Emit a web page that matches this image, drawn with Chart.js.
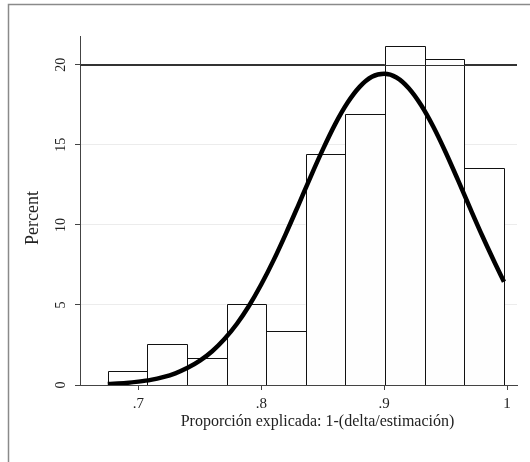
<!DOCTYPE html>
<html><head><meta charset="utf-8">
<script src="https://cdn.jsdelivr.net/npm/chart.js@4/dist/chart.umd.min.js"></script>
<style>html,body{margin:0;padding:0;background:#fff}#wrap{width:530px;height:462px;position:relative}</style>
</head><body><div id="wrap"><canvas id="c" width="530" height="462"></canvas></div>
<script>
// histogram bins (bin centre on x) and percent per bin
const binCenters = [0.6910, 0.7233, 0.7556, 0.7878, 0.8201, 0.8523, 0.8846, 0.9169, 0.9491, 0.9814];
const binPercent = [0.85, 2.54, 1.69, 5.08, 3.39, 14.41, 16.95, 21.19, 20.34, 13.56];
// overlaid density curve
const curveX = [0.675,0.69,0.70,0.71,0.72,0.73,0.74,0.75,0.76,0.77,0.78,0.79,0.80,0.81,0.82,0.83,0.84,0.85,0.86,0.87,0.88,0.89,0.90,0.91,0.92,0.93,0.94,0.95,0.96,0.97,0.98,0.99,0.9975];
const curveY = [0.06,0.13,0.21,0.32,0.49,0.73,1.07,1.52,2.11,2.87,3.81,4.95,6.29,7.80,9.46,11.21,12.99,14.70,16.28,17.61,18.62,19.25,19.44,19.21,18.54,17.49,16.13,14.54,12.81,11.03,9.29,7.64,6.45];
const xTickValues = [0.7, 0.8, 0.9, 1];
const xTickLabels = ['.7', '.8', '.9', '1'];
const yTickValues = [0, 5, 10, 15, 20];
const yTickLabels = ['0', '5', '10', '15', '20'];
const refLineValue = 20;
const xTitle = 'Proporción explicada: 1-(delta/estimación)';
const yTitle = 'Percent';

const SERIF = '"Liberation Serif", "DejaVu Serif", serif';
const BAR_INDEX = 1;

const decor = {
  id: 'decor',
  beforeDraw(chart) {
    const ctx = chart.ctx;
    ctx.save();
    ctx.fillStyle = '#fff';
    ctx.fillRect(0, 0, chart.width, chart.height);
    ctx.restore();
  },
  afterDatasetDraw(chart, args) {
    if (args.index !== BAR_INDEX) return;
    const ctx = chart.ctx;
    const meta = chart.getDatasetMeta(BAR_INDEX);
    ctx.save();
    ctx.strokeStyle = '#111';
    ctx.lineWidth = 1;
    meta.data.forEach(el => {
      const p = el.getProps(['x', 'y', 'base', 'width'], true);
      const l = Math.round(p.x - p.width / 2) + 0.5;
      const r = Math.round(p.x + p.width / 2) + 0.5;
      const t = Math.round(p.y) + 0.5;
      const b = Math.round(p.base);
      ctx.beginPath();
      ctx.moveTo(l, b); ctx.lineTo(l, t); ctx.lineTo(r, t); ctx.lineTo(r, b);
      ctx.stroke();
    });
    ctx.restore();
  },
  afterDatasetsDraw(chart) {
    const ctx = chart.ctx, y = chart.scales.y, a = chart.chartArea;
    ctx.save();
    ctx.strokeStyle = '#333';
    ctx.lineWidth = 1;
    const py = Math.round(y.getPixelForValue(refLineValue)) + 0.5;
    ctx.beginPath(); ctx.moveTo(a.left, py); ctx.lineTo(a.right, py); ctx.stroke();
    ctx.restore();
  },
  afterDraw(chart) {
    const ctx = chart.ctx, y = chart.scales.y;
    ctx.save();
    // outer frame
    ctx.strokeStyle = '#8a8a8a';
    ctx.lineWidth = 1.5;
    ctx.beginPath(); ctx.moveTo(8.5, 470); ctx.lineTo(8.5, 4.5); ctx.lineTo(540, 4.5); ctx.stroke();
    // y tick labels, rotated
    ctx.fillStyle = '#222';
    ctx.font = '14px ' + SERIF;
    ctx.textAlign = 'center';
    ctx.textBaseline = 'middle';
    yTickValues.forEach((v, i) => {
      ctx.save();
      ctx.translate(61, y.getPixelForValue(v));
      ctx.rotate(-Math.PI / 2);
      ctx.fillText(yTickLabels[i], 0, 0);
      ctx.restore();
    });
    // y title
    ctx.font = '18px ' + SERIF;
    ctx.save();
    ctx.translate(33, 218);
    ctx.rotate(-Math.PI / 2);
    ctx.fillText(yTitle, 0, 0);
    ctx.restore();
    // x title
    ctx.font = '16px ' + SERIF;
    ctx.fillText(xTitle, 317.5, 422);
    ctx.restore();
  }
};

new Chart(document.getElementById('c'), {
  data: {
    datasets: [
      {
        type: 'line',
        order: 0,
        data: curveX.map((x, i) => ({ x: x, y: curveY[i] })),
        borderColor: '#000',
        borderWidth: 4.5,
        pointRadius: 0,
        tension: 0.4,
        cubicInterpolationMode: 'monotone',
        fill: false
      },
      {
        type: 'bar',
        order: 1,
        data: binCenters.map((x, i) => ({ x: x, y: binPercent[i] })),
        backgroundColor: '#fefefe',
        borderWidth: 0,
        barPercentage: 1,
        categoryPercentage: 1,
        grouped: false
      }
    ]
  },
  options: {
    responsive: false,
    animation: false,
    devicePixelRatio: 1,
    layout: { padding: { top: 36, right: 13, left: 0, bottom: 0 } },
    plugins: { legend: { display: false }, tooltip: { enabled: false } },
    scales: {
      x: {
        type: 'linear',
        offset: false,
        min: 0.6524,
        max: 1.0081,
        afterBuildTicks: s => { s.ticks = xTickValues.map(v => ({ value: v })); },
        afterFit: s => { s.height = 77; },
        ticks: {
          callback: (v) => { const i = xTickValues.indexOf(v); return i >= 0 ? xTickLabels[i] : ''; },
          color: '#222',
          font: { family: SERIF, size: 15 },
          padding: 5,
          maxRotation: 0,
          autoSkip: false
        },
        grid: { offset: false, drawOnChartArea: false, drawTicks: true, tickLength: 5, tickColor: '#444', lineWidth: 1 },
        border: { display: true, color: '#444', width: 1 }
      },
      y: {
        type: 'linear',
        min: 0,
        max: 21.8,
        afterBuildTicks: s => { s.ticks = yTickValues.map(v => ({ value: v })); },
        afterFit: s => { s.width = 80; },
        ticks: { display: false },
        grid: {
          drawOnChartArea: true,
          drawTicks: true,
          tickLength: 5,
          tickColor: '#444',
          color: c => (c.tick && c.tick.value === refLineValue) ? '#333' : (c.tick && c.tick.value === 0 ? '#444' : '#ececec'),
          lineWidth: 1
        },
        border: { display: true, color: '#444', width: 1 }
      }
    }
  },
  plugins: [decor]
});
</script>
</body></html>
